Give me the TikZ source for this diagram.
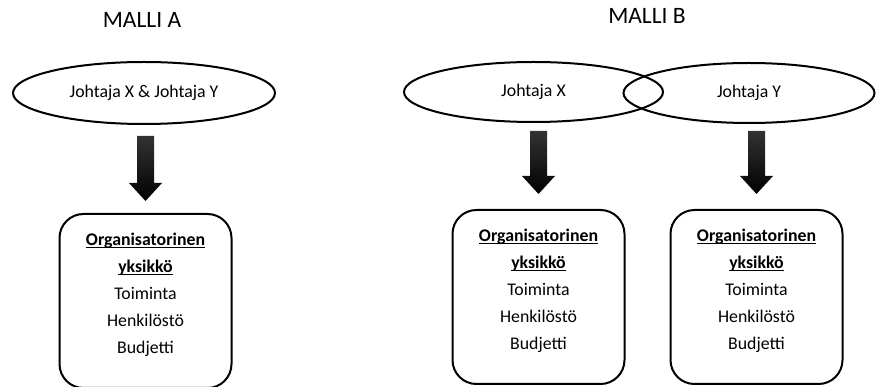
\documentclass[tikz,border=0pt]{standalone}
\usepackage{fontspec}
\setmainfont{Carlito}
\usetikzlibrary{positioning, calc, shapes.geometric}

\newcommand\bodyfont{\fontsize{17.8}{27}\selectfont}
\newcommand\titlefont{\fontsize{23.5}{28}\selectfont}
\newcommand\uword[1]{\underline{\smash{\textbf{#1}}}}
% thick shaded arrow from top point #1 down to tip #2
\newcommand\fatarrow[2]{%
  \shade[fatarr] let \p1=#1, \p2=#2 in
    (\x1-8.5pt,\y1) -- (\x1+8.5pt,\y1) -- (\x1+8.5pt,\y2+18pt)
    -- (\x1+16.5pt,\y2+18pt) -- (\x1,\y2) -- (\x1-16.5pt,\y2+18pt)
    -- (\x1-8.5pt,\y2+18pt) -- cycle;}

\begin{document}
\begin{tikzpicture}[x=1pt, y=-1pt,
    lead/.style={draw, ellipse, line width=2pt, inner sep=0pt, font=\bodyfont},
    unit/.style={draw, rounded corners=24pt, line width=2pt, align=center,
                 minimum width=172pt, minimum height=174pt, font=\bodyfont},
    title/.style={font=\titlefont},
    fatarr/.style={top color=black!80, bottom color=black}]
  \useasboundingbox (0,0) rectangle (876,387);

  % Malli A
  \node[title] (titleA) at (142,20) {MALLI A};
  \node[lead, minimum width=262pt, minimum height=62pt] (ellA) at (144,93)
       {Johtaja X \& Johtaja Y};
  \node[unit, below=88pt of ellA, xshift=1.5pt] (boxA)
       {\uword{Organisatorinen}\\ \uword{yksikkö}\\ Toiminta\\ Henkilöstö\\ Budjetti};

  % Malli B
  \node[title] (titleB) at (647,16) {MALLI B};
  \node[lead, minimum width=259pt, minimum height=60pt] (ellX) at (533.5,92)
       {Johtaja X};
  \node[lead, minimum width=251pt, minimum height=60pt] (ellY) at (749,93)
       {Johtaja Y};
  \node[unit, below=86pt of ellX, xshift=5pt] (boxX)
       {\uword{Organisatorinen}\\ \uword{yksikkö}\\ Toiminta\\ Henkilöstö\\ Budjetti};
  \node[unit, below=85pt of ellY, xshift=7.5pt] (boxY)
       {\uword{Organisatorinen}\\ \uword{yksikkö}\\ Toiminta\\ Henkilöstö\\ Budjetti};

  \coordinate (topA) at ($(boxA.north |- ellA.south)+(0,11)$);
  \coordinate (tipA) at ($(boxA.north)+(0,-12)$);
  \coordinate (topX) at ($(boxX.north |- ellX.south)+(0,8)$);
  \coordinate (tipX) at ($(boxX.north)+(0,-15)$);
  \coordinate (topY) at ($(boxY.north |- ellY.south)+(0,7)$);
  \coordinate (tipY) at ($(boxY.north)+(0,-15)$);

  \fatarrow{(topA)}{(tipA)}
  \fatarrow{(topX)}{(tipX)}
  \fatarrow{(topY)}{(tipY)}
\end{tikzpicture}
\end{document}
